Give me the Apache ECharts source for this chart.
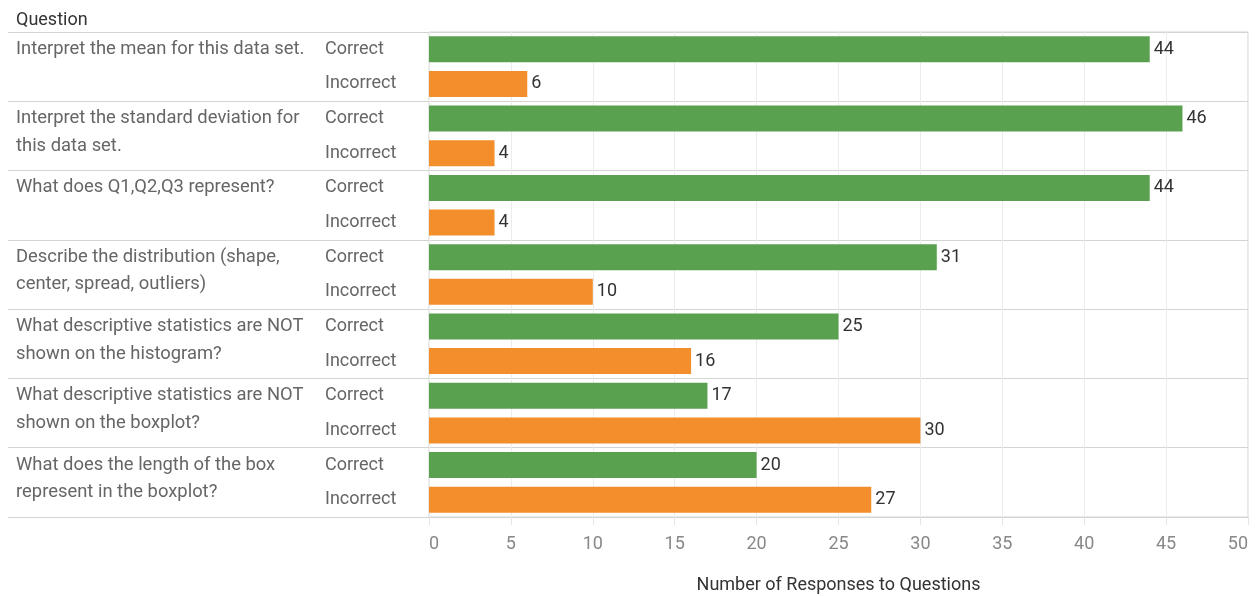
<!DOCTYPE html>
<html>
<head>
<meta charset="utf-8">
<script src="https://cdn.jsdelivr.net/npm/echarts@6/dist/echarts.min.js"></script>
<style>
html,body{margin:0;padding:0;background:#fff;}
#c{width:1256px;height:596px;}
</style>
</head>
<body>
<div id="c"></div>
<script>
const questions = [
  "Interpret the mean for this data set.",
  "Interpret the standard deviation for\nthis data set.",
  "What does Q1,Q2,Q3 represent?",
  "Describe the distribution (shape,\ncenter, spread, outliers)",
  "What descriptive statistics are NOT\nshown on the histogram?",
  "What descriptive statistics are NOT\nshown on the boxplot?",
  "What does the length of the box\nrepresent in the boxplot?"
];
const answerTypes = ["Correct", "Incorrect"];
const correct = [44, 46, 44, 31, 25, 17, 20];
const incorrect = [6, 4, 4, 10, 16, 30, 27];
const xTicks = { min: 0, max: 50, interval: 5 };

const FONT = "Roboto";
const GREEN = "#59A14F", ORANGE = "#F28E2B";

const rowLabels = [], qLine1 = [], qLine2 = [], barData = [];
questions.forEach((q, i) => {
  const parts = q.split("\n");
  rowLabels.push(answerTypes[0], answerTypes[1]);
  qLine1.push(parts[0] || "", "");
  qLine2.push("", parts[1] || "");
  barData.push({ value: correct[i], itemStyle: { color: GREEN } });
  barData.push({ value: incorrect[i], itemStyle: { color: ORANGE } });
});

const labelBase = { fontFamily: FONT, fontSize: 18, color: "#666" };
const hiddenAxisParts = { position: "left", axisLine: { show: false }, axisTick: { show: false } };

const chart = echarts.init(document.getElementById("c"));
chart.setOption({
  animation: false,
  textStyle: { fontFamily: FONT },
  title: {
    text: "Question", left: 11, top: 6,
    textStyle: { fontFamily: FONT, fontSize: 18, fontWeight: "normal", color: "#333" }
  },
  grid: [
    { left: 429, right: 8, top: 32, bottom: 79, show: true, borderColor: "#d4d4d4", borderWidth: 1, containLabel: false, outerBoundsMode: "none" },
    { left: 8, width: 421, top: 32, bottom: 79, show: false, containLabel: false, outerBoundsMode: "none" }
  ],
  xAxis: [
    {
      gridIndex: 0, type: "value", min: xTicks.min, max: xTicks.max, interval: xTicks.interval,
      name: "Number of Responses to Questions", nameLocation: "middle", nameGap: 59,
      nameTextStyle: { fontFamily: FONT, fontSize: 18, color: "#333", fontWeight: "normal" },
      axisLine: { show: false },
      axisTick: { show: true, length: 8, lineStyle: { color: "#e4e4e4" } },
      axisLabel: { fontFamily: FONT, fontSize: 18, color: "#888", margin: 18, alignMinLabel: "left", alignMaxLabel: "right" },
      splitLine: { show: true, lineStyle: { color: "#ececec", width: 1 } }
    },
    { gridIndex: 1, type: "value", min: 0, max: 1, show: false }
  ],
  yAxis: [
    {
      gridIndex: 0, type: "category", data: rowLabels, inverse: true, ...hiddenAxisParts,
      axisLabel: { ...labelBase, align: "left", margin: 104, interval: 0, padding: [4, 0, 0, 0] },
      splitLine: { show: false }
    },
    {
      gridIndex: 0, type: "category", data: qLine1, inverse: true, ...hiddenAxisParts,
      axisLabel: { ...labelBase, fontSize: 18.4, align: "left", margin: 413, interval: 0, verticalAlign: "middle", padding: [3, 0, 0, 0] },
      splitLine: { show: false }
    },
    {
      gridIndex: 0, type: "category", data: qLine2, inverse: true, ...hiddenAxisParts,
      axisLabel: { ...labelBase, fontSize: 18.4, align: "left", margin: 413, interval: 0, verticalAlign: "bottom", lineHeight: 18, padding: [0, 0, -2, 0] },
      splitLine: { show: false }
    },
    {
      gridIndex: 0, type: "category", data: questions, inverse: true, ...hiddenAxisParts,
      axisLabel: { show: false },
      splitLine: { show: true, lineStyle: { color: "#d4d4d4", width: 1 } }
    },
    {
      gridIndex: 1, type: "category", data: questions, inverse: true, ...hiddenAxisParts,
      axisLabel: { show: false },
      splitLine: { show: true, lineStyle: { color: "#d4d4d4", width: 1 } }
    }
  ],
  series: [
    {
      type: "bar", xAxisIndex: 0, yAxisIndex: 0, data: barData, barWidth: 26,
      label: { show: true, position: "right", distance: 4, fontFamily: FONT, fontSize: 18, color: "#333", padding: [3, 0, 0, 0] }
    }
  ]
});
</script>
</body>
</html>
